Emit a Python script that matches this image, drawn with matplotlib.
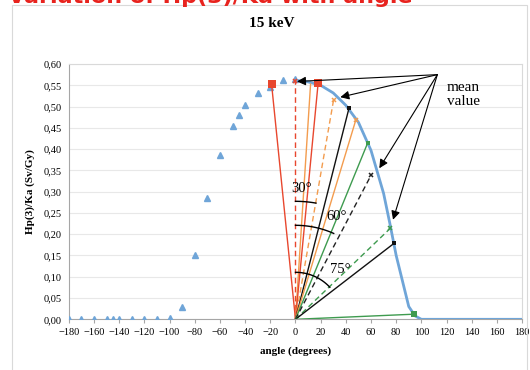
import numpy as np
import matplotlib
matplotlib.use("Agg")
import matplotlib.pyplot as plt
from matplotlib.patches import Rectangle

plt.rcParams["font.family"] = ["Liberation Serif", "DejaVu Serif"]

# measured Hp(3)/Ka at negative angles (triangles)
neg_angles = [-180, -170, -160, -150, -145, -140, -130, -120, -110, -100,
              -90, -80, -70, -60, -50, -45, -40, -30, -20, -10, 0]
neg_values = [0, 0, 0, 0, 0, 0, 0, 0, 0, 0.003,
              0.03, 0.151, 0.286, 0.386, 0.454, 0.48, 0.503, 0.533, 0.545, 0.563, 0.565]

# curve for positive angles
pos_angles = [0, 10, 20, 30, 40, 50, 60, 70, 75, 80, 90, 95, 100, 120, 140, 160, 180]
pos_values = [0.562, 0.558, 0.55, 0.532, 0.503, 0.463, 0.397, 0.296, 0.225, 0.15,
              0.03, 0.008, 0, 0, 0, 0, 0]

# mean values, each joined to the origin
mean_angles = [-19, 0, 12, 18, 30.3, 42.5, 48, 57.3, 60.3, 75.4, 78.5, 93.9]
mean_values = [0.553, 0.56, 0.553, 0.555, 0.516, 0.496, 0.469, 0.414, 0.34, 0.214, 0.179, 0.012]
mean_colors = ["#e8472e", "#e8472e", "#f39c4e", "#e8472e", "#f39c4e", "#111111",
               "#f39c4e", "#3e9b4f", "#222222", "#3e9b4f", "#111111", "#3e9b4f"]
mean_styles = ["-", "--", "-", "-", "--", "-", "-", "-", "--", "--", "-", "-"]
mean_markers = ["s", "x", "", "s", "x", "s", "x", "s", "x", "x", "s", "s"]
mean_msizes = [5.5, 3, 0, 5.5, 3, 3, 3, 3.5, 3.5, 3.5, 3, 4.5]

# arrows from the "mean value" note
arrow_angles = [1.2, 35.6, 66.6, 77.5]
arrow_values = [0.559, 0.522, 0.355, 0.234]

# angle arcs: label, radius (px), end direction (deg from vertical)
arc_labels = ["30°", "60°", "75°"]
arc_radii = [118, 94, 47]
arc_ends = [10, 24, 47]
arc_label_x = [4.5, 33, 36]
arc_label_y = [0.308, 0.241, 0.118]

blue = "#6fa5d8"

fig = plt.figure(figsize=(5.3, 3.7), dpi=100)
ax = fig.add_axes([0.130, 0.137, 0.855, 0.690])

ax.plot(pos_angles, pos_values, color=blue, lw=2, zorder=3)
ax.plot(neg_angles, neg_values, ls="none", marker="^", ms=4, color=blue, zorder=4)

for x, y, c, ls, m, ms in zip(mean_angles, mean_values, mean_colors,
                              mean_styles, mean_markers, mean_msizes):
    ax.plot([0, x], [0, y], color=c, ls=ls, lw=1, dashes=(4, 2.5) if ls == "--" else (None, None),
            zorder=5)
    if m:
        ax.plot(x, y, marker=m, ms=ms, color=c, mew=1.1 if m == "x" else 0,
                ls="none", zorder=6)

# arcs drawn round in pixel space
sx = 0.855 * 530 / 360
sy = 0.690 * 370 / 0.6
for lab, r, end, lx, ly in zip(arc_labels, arc_radii, arc_ends, arc_label_x, arc_label_y):
    phi = np.radians(np.linspace(0, end, 40))
    ax.plot(r * np.sin(phi) / sx, r * np.cos(phi) / sy, color="black", lw=1, zorder=6)
    ax.text(lx, ly, lab, fontsize=10.5, ha="center", va="center", zorder=7)

for x, y in zip(arrow_angles, arrow_values):
    ax.annotate("", xy=(x, y), xytext=(112.7, 0.575),
                arrowprops=dict(arrowstyle="-|>", color="black", lw=0.8,
                                mutation_scale=13, shrinkA=0, shrinkB=0),
                zorder=8)
ax.text(120, 0.528, "mean\nvalue", fontsize=11, ha="left", va="center", linespacing=1.1)

ax.set_xlim(-180, 180)
ax.set_ylim(0, 0.6)
ax.set_xticks(range(-180, 181, 20))
yt = np.arange(0, 0.601, 0.05)
ax.set_yticks(yt)
ax.set_yticklabels([f"{v:.2f}".replace(".", ",") for v in yt])
ax.tick_params(axis="x", labelsize=7.5, length=3, color="#a6a6a6", pad=3)
ax.tick_params(axis="y", labelsize=7.5, length=0, pad=5)
ax.yaxis.grid(True, color="#e8e8e8", lw=0.8)
ax.set_axisbelow(True)
for s in ["left", "bottom"]:
    ax.spines[s].set_color("#a6a6a6")
for s in ["top", "right"]:
    ax.spines[s].set_color("#d9d9d9")

ax.set_xlabel("angle (degrees)", fontsize=8, fontweight="bold", labelpad=7)
ax.set_ylabel("Hp(3)/Ka (Sv/Gy)", fontsize=8, fontweight="bold", labelpad=6)

fig.text(0.513, 1 - 23.5 / 370, "15 keV", fontsize=11, fontweight="bold",
         ha="center", va="center")

# chart frame and the slide heading above it
fig.patches.append(Rectangle((12 / 530, -0.02), 515 / 530, 1.0065, transform=fig.transFigure,
                             fill=False, edgecolor="#d9d9d9", lw=0.8))
fig.text(8 / 530, 1 - 3 / 370, "Variation of Hp(3)/Ka with angle", color="#e8231e",
         fontsize=16, fontweight="bold", family="DejaVu Sans", ha="left", va="baseline")

fig.savefig("out.png", dpi=100, facecolor="white")
